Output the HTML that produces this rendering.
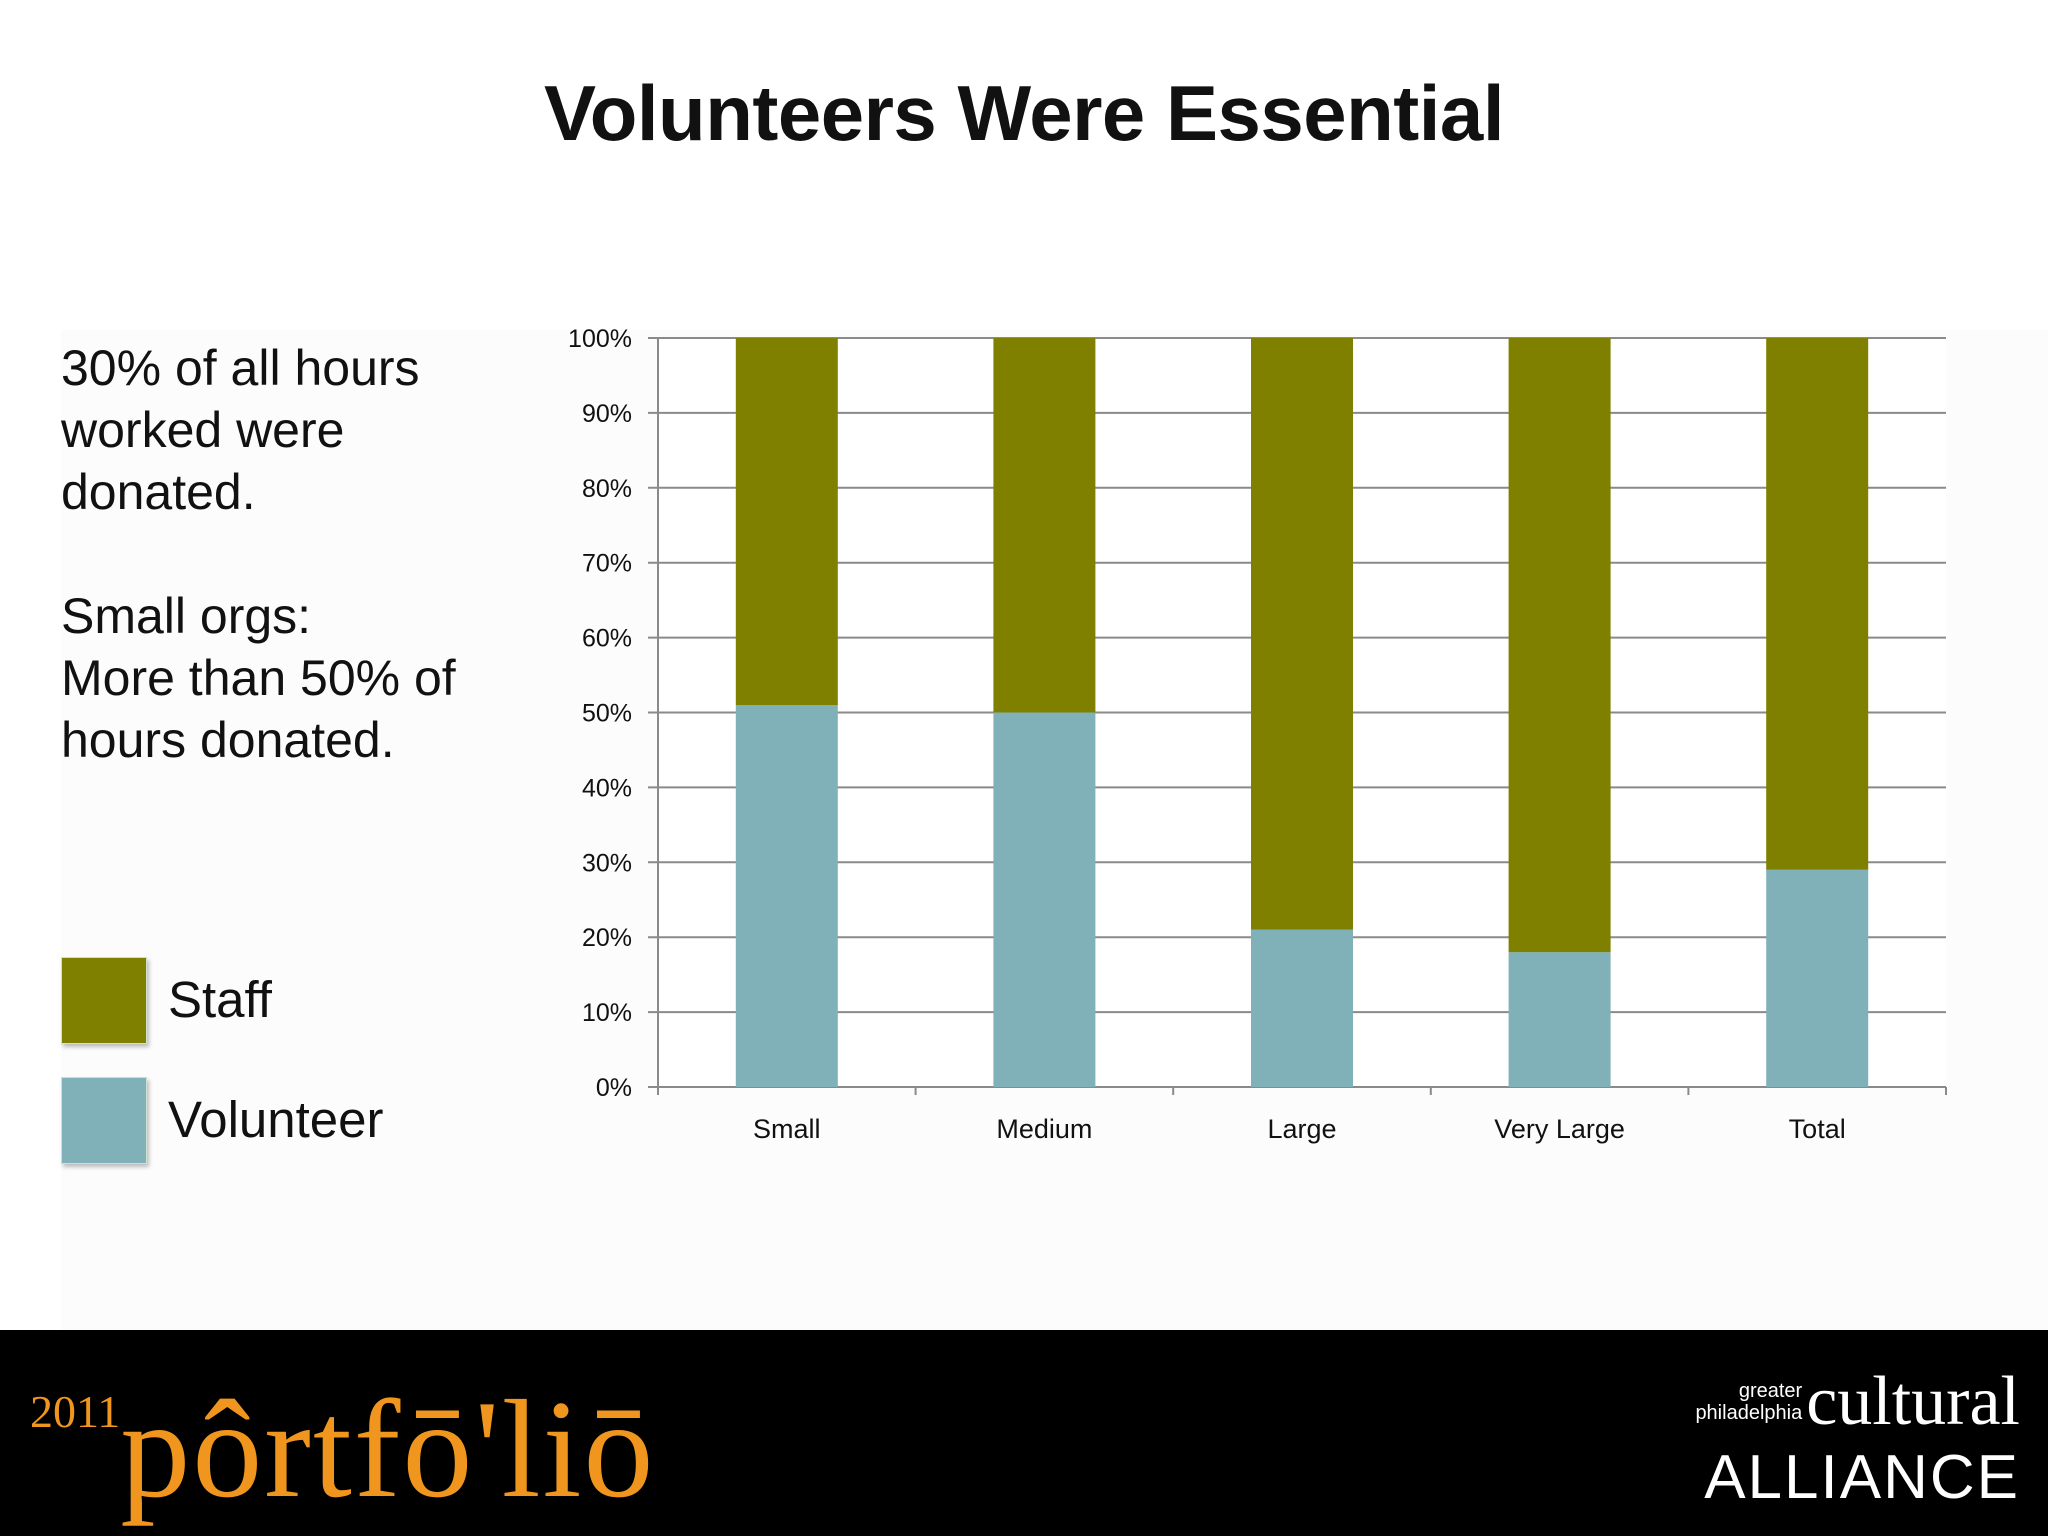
<!DOCTYPE html>
<html><head><meta charset="utf-8"><style>
body{margin:0;width:2048px;height:1536px;overflow:hidden;background:#fff;font-family:"Liberation Sans",sans-serif;position:relative}
.abs{position:absolute}
</style></head><body>
<div class="abs" style="left:61px;top:330px;width:1987px;height:1000px;background:#fcfcfc"></div>
<div class="abs" style="left:0;top:68px;width:2048px;text-align:center;font-size:78px;font-weight:bold;color:#111;letter-spacing:-0.5px">Volunteers Were Essential</div>
<div class="abs" style="left:61px;top:337px;font-size:50px;line-height:62px;color:#111">30% of all hours<br>worked were<br>donated.<br><br>Small orgs:<br>More than 50% of<br>hours donated.</div>
<div class="abs" style="left:61px;top:957px;width:84px;height:85px;background:#808000;box-shadow:2px 3px 4px #bbb;border:1px solid #cfe0d0"></div>
<div class="abs" style="left:168px;top:970px;font-size:51px;color:#111">Staff</div>
<div class="abs" style="left:61px;top:1077px;width:84px;height:85px;background:#80b0b8;box-shadow:2px 3px 4px #bbb;border:1px solid #cfe0d0"></div>
<div class="abs" style="left:168px;top:1090px;font-size:51px;color:#111">Volunteer</div>
<svg class="abs" style="left:0;top:0" width="2048" height="1330" id="chart"></svg>
<div class="abs" style="left:0;top:1330px;width:2048px;height:206px;background:#000"></div>
<div class="abs" style="left:30px;top:1385px;color:#f0961e;font-family:'Liberation Serif',serif"><span style="font-size:46px;vertical-align:top">2011</span><span style="font-size:140px;line-height:130px;letter-spacing:2px">pôrtfō'liō</span></div>
<div class="abs" style="left:1640px;top:1362px;color:#fff;font-family:'Liberation Serif',serif;text-align:right;width:380px">
<span style="font-family:'Liberation Sans';font-size:20px;display:inline-block;line-height:22px;vertical-align:middle">greater<br>philadelphia</span>
<span style="font-size:70px;vertical-align:middle">cultural</span><br>
<span style="font-family:'Liberation Sans';font-size:62px;letter-spacing:2px">ALLIANCE</span></div>
<script>
const categories=["Small","Medium","Large","Very Large","Total"];
const volunteer=[51,50,21,18,29];
const staff=[49,50,79,82,71];
const ticks=[0,10,20,30,40,50,60,70,80,90,100];
const svg=document.getElementById('chart');
const NS='http://www.w3.org/2000/svg';
const x0=658,x1=1946,y0=1087,y1=338;
const y=v=>y0-(v/100)*(y0-y1);
const cw=(x1-x0)/categories.length;
function mk(t,a){const e=document.createElementNS(NS,t);for(const k in a)e.setAttribute(k,a[k]);svg.appendChild(e);return e;}
const bg=mk('rect',{x:x0,y:y1,width:x1-x0,height:y0-y1,fill:'#fff'});


ticks.forEach(t=>{
 const g=mk('line',{x1:x0-10,x2:x1,y1:y(t),y2:y(t),stroke:'#8a8a8a','stroke-width':2});
 
 
 const l=mk('text',{x:632,y:y(t)+9,'text-anchor':'end','font-size':25,fill:'#111','font-family':'Liberation Sans'});
 l.textContent=t+'%';
 
 
});
const ax=mk('line',{x1:x0,x2:x0,y1:y1,y2:y0+8,stroke:'#8a8a8a','stroke-width':2});


for(let i=0;i<=categories.length;i++){
 const tk=mk('line',{x1:x0+i*cw,x2:x0+i*cw,y1:y0,y2:y0+8,stroke:'#8a8a8a','stroke-width':2});
 
 
}
const bw=102;
categories.forEach((c,i)=>{
 const cx=x0+cw*(i+0.5);
 const v=mk('rect',{x:cx-bw/2,y:y(volunteer[i]),width:bw,height:y0-y(volunteer[i]),fill:'#80b0b8'});
 
 
 const s=mk('rect',{x:cx-bw/2,y:y(volunteer[i]+staff[i]),width:bw,height:y(volunteer[i])-y(volunteer[i]+staff[i]),fill:'#808000'});
 
 
 const t=mk('text',{x:cx,y:1138,'text-anchor':'middle','font-size':27,fill:'#111','font-family':'Liberation Sans'});
 t.textContent=c;
 
 
});
</script>
</body></html>
